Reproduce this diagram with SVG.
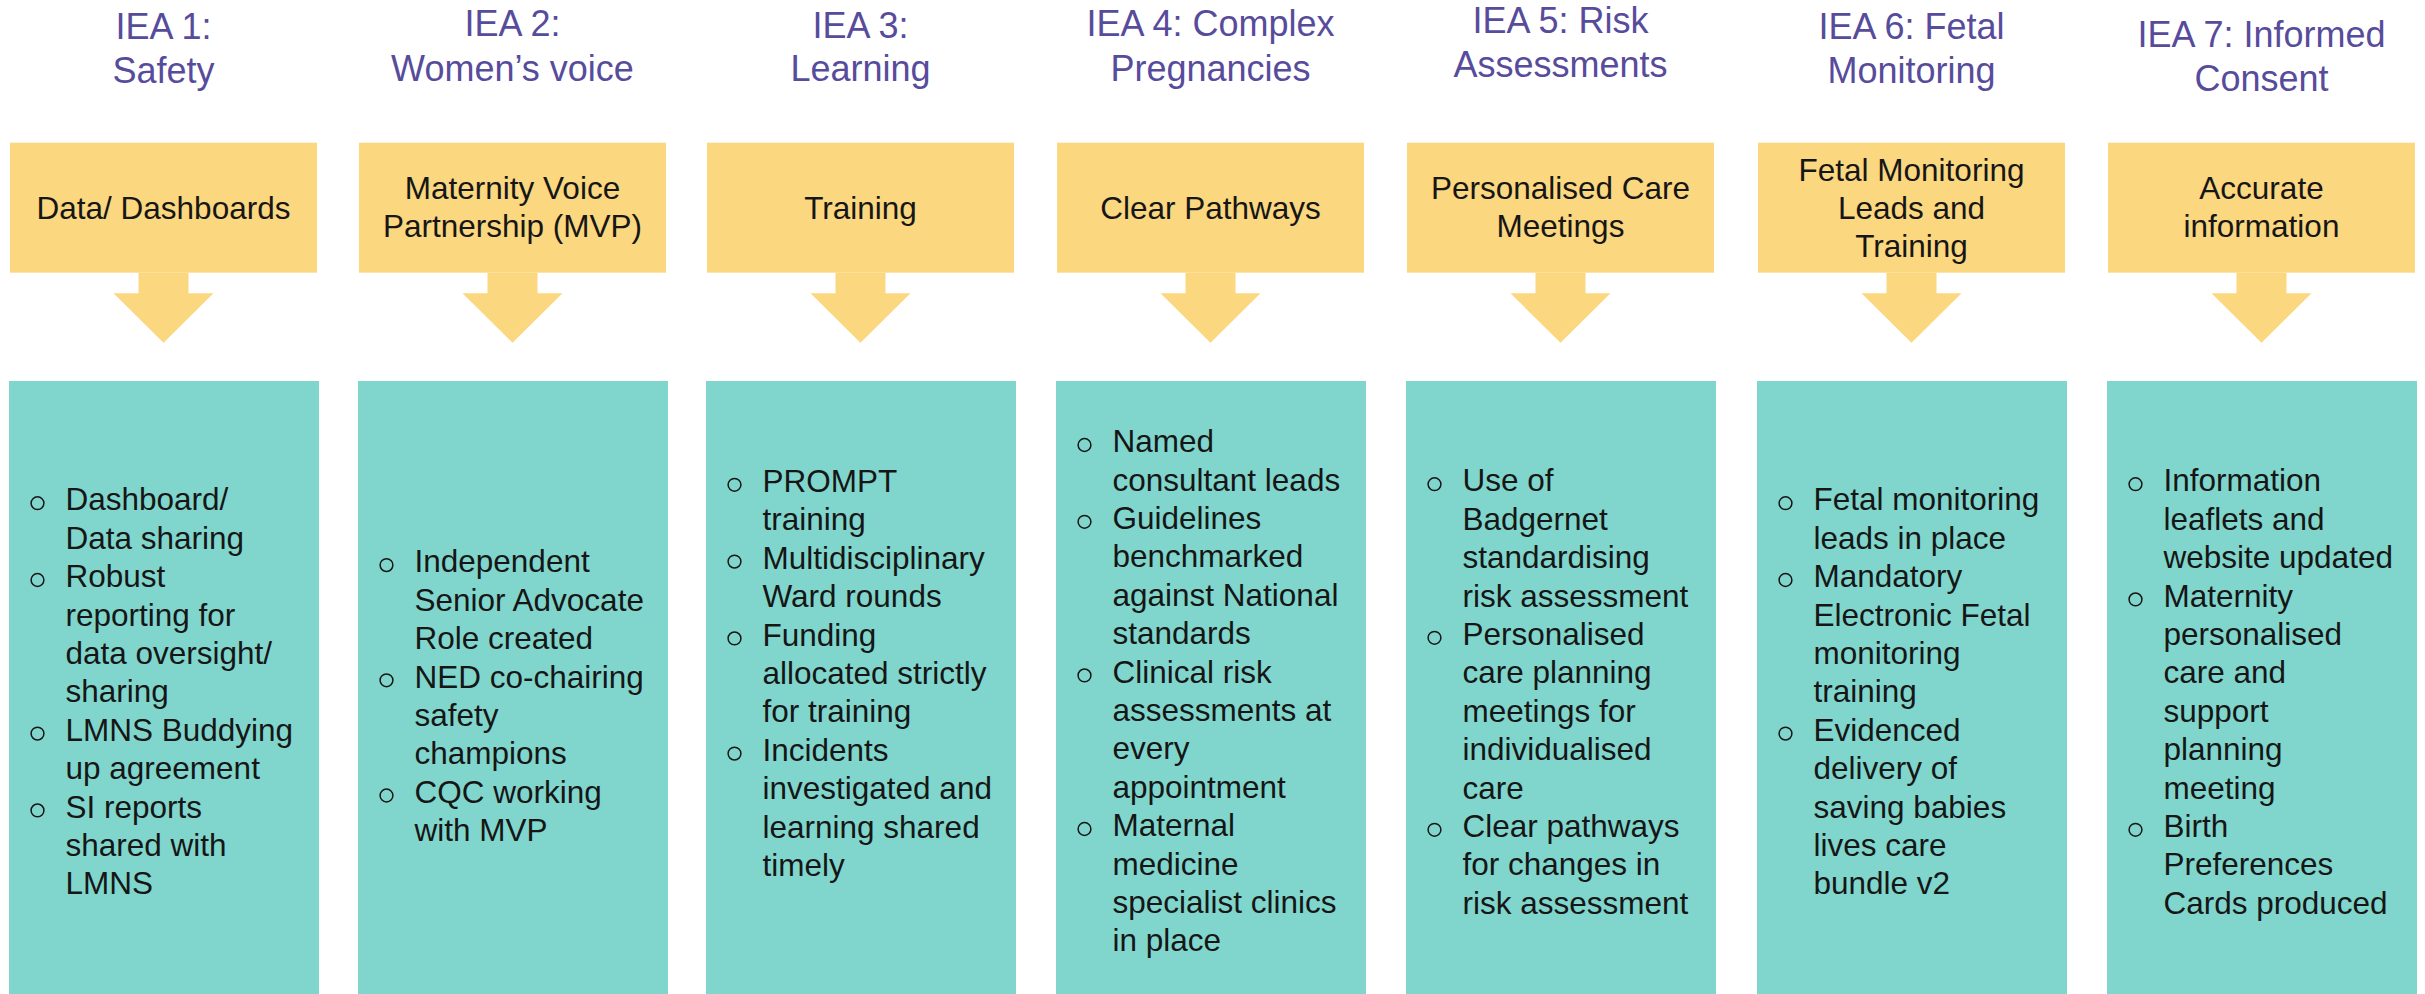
<svg xmlns="http://www.w3.org/2000/svg" width="2425" height="994" viewBox="0 0 2425 994">
  <style>
    .title { font-family: "Liberation Sans", Arial, sans-serif; font-size: 36px; fill: #574C9B; text-anchor: middle; }
    .head  { fill: #FBD780; }
    .headtxt { font-family: "Liberation Sans", Arial, sans-serif; font-size: 31.5px; fill: #161616; text-anchor: middle; }
    .body  { fill: #80D6CD; }
    .item  { font-family: "Liberation Sans", Arial, sans-serif; font-size: 31.5px; fill: #161616; }
    .bullet { fill: none; stroke: #161616; stroke-width: 1.5; }
    .arrow { fill: #FBD780; }
  </style>
  <defs>
    <circle id="b" r="6.4" class="bullet"/>
    <!-- block arrow, drawn around x=0 from the bottom of a header box -->
    <polygon id="down" class="arrow" points="-25,272.7 25,272.7 25,293.3 50,293.3 0,342.7 -50,293.3 -25,293.3"/>
  </defs>

  <rect width="2425" height="994" fill="#FFFFFF"/>

  <!-- downward arrows from each header box into its detail box -->
  <g id="connectors">
    <use href="#down" x="163.5"/>
    <use href="#down" x="512.5"/>
    <use href="#down" x="860.5"/>
    <use href="#down" x="1210.5"/>
    <use href="#down" x="1560.5"/>
    <use href="#down" x="1911.5"/>
    <use href="#down" x="2261.5"/>
  </g>

  <!-- IEA 1 -->
  <g id="iea1">
    <text class="title"><tspan x="163.5" y="39.3">IEA 1:</tspan><tspan x="163.5" y="83">Safety</tspan></text>
    <rect class="head" x="10" y="142.7" width="307" height="130"/>
    <text class="headtxt" x="163.5" y="219">Data/ Dashboards</text>
    <rect class="body" x="9" y="381" width="310" height="613"/>
    <use href="#b" x="37.5" y="503.2"/>
    <use href="#b" x="37.5" y="580"/>
    <use href="#b" x="37.5" y="733.6"/>
    <use href="#b" x="37.5" y="810.4"/>
    <text class="item">
      <tspan x="65.5" y="510.4">Dashboard/</tspan>
      <tspan x="65.5" y="548.8">Data sharing</tspan>
      <tspan x="65.5" y="587.2">Robust</tspan>
      <tspan x="65.5" y="625.6">reporting for</tspan>
      <tspan x="65.5" y="664">data oversight/</tspan>
      <tspan x="65.5" y="702.4">sharing</tspan>
      <tspan x="65.5" y="740.8">LMNS Buddying</tspan>
      <tspan x="65.5" y="779.2">up agreement</tspan>
      <tspan x="65.5" y="817.6">SI reports</tspan>
      <tspan x="65.5" y="856">shared with</tspan>
      <tspan x="65.5" y="894.4">LMNS</tspan>
    </text>
  </g>

  <!-- IEA 2 -->
  <g id="iea2">
    <text class="title"><tspan x="512.5" y="36">IEA 2:</tspan><tspan x="512.5" y="80.7">Women’s voice</tspan></text>
    <rect class="head" x="359" y="142.7" width="307" height="130"/>
    <text class="headtxt"><tspan x="512.5" y="199">Maternity Voice</tspan><tspan x="512.5" y="237.4">Partnership (MVP)</tspan></text>
    <rect class="body" x="358" y="381" width="310" height="613"/>
    <use href="#b" x="386.5" y="565.1"/>
    <use href="#b" x="386.5" y="680.3"/>
    <use href="#b" x="386.5" y="795.5"/>
    <text class="item">
      <tspan x="414.5" y="572.3">Independent</tspan>
      <tspan x="414.5" y="610.7">Senior Advocate</tspan>
      <tspan x="414.5" y="649.1">Role created</tspan>
      <tspan x="414.5" y="687.5">NED co-chairing</tspan>
      <tspan x="414.5" y="725.9">safety</tspan>
      <tspan x="414.5" y="764.3">champions</tspan>
      <tspan x="414.5" y="802.7">CQC working</tspan>
      <tspan x="414.5" y="841.1">with MVP</tspan>
    </text>
  </g>

  <!-- IEA 3 -->
  <g id="iea3">
    <text class="title"><tspan x="860.5" y="38.3">IEA 3:</tspan><tspan x="860.5" y="81">Learning</tspan></text>
    <rect class="head" x="707" y="142.7" width="307" height="130"/>
    <text class="headtxt" x="860.5" y="219">Training</text>
    <rect class="body" x="706" y="381" width="310" height="613"/>
    <use href="#b" x="734.5" y="484.8"/>
    <use href="#b" x="734.5" y="561.6"/>
    <use href="#b" x="734.5" y="638.4"/>
    <use href="#b" x="734.5" y="753.6"/>
    <text class="item">
      <tspan x="762.5" y="492">PROMPT</tspan>
      <tspan x="762.5" y="530.4">training</tspan>
      <tspan x="762.5" y="568.8">Multidisciplinary</tspan>
      <tspan x="762.5" y="607.2">Ward rounds</tspan>
      <tspan x="762.5" y="645.6">Funding</tspan>
      <tspan x="762.5" y="684">allocated strictly</tspan>
      <tspan x="762.5" y="722.4">for training</tspan>
      <tspan x="762.5" y="760.8">Incidents</tspan>
      <tspan x="762.5" y="799.2">investigated and</tspan>
      <tspan x="762.5" y="837.6">learning shared</tspan>
      <tspan x="762.5" y="876">timely</tspan>
    </text>
  </g>

  <!-- IEA 4 -->
  <g id="iea4">
    <text class="title"><tspan x="1210.5" y="36">IEA 4: Complex</tspan><tspan x="1210.5" y="80.7">Pregnancies</tspan></text>
    <rect class="head" x="1057" y="142.7" width="307" height="130"/>
    <text class="headtxt" x="1210.5" y="219">Clear Pathways</text>
    <rect class="body" x="1056" y="381" width="310" height="613"/>
    <use href="#b" x="1084.5" y="445"/>
    <use href="#b" x="1084.5" y="521.8"/>
    <use href="#b" x="1084.5" y="675.4"/>
    <use href="#b" x="1084.5" y="829"/>
    <text class="item">
      <tspan x="1112.5" y="452.2">Named</tspan>
      <tspan x="1112.5" y="490.6">consultant leads</tspan>
      <tspan x="1112.5" y="529">Guidelines</tspan>
      <tspan x="1112.5" y="567.4">benchmarked</tspan>
      <tspan x="1112.5" y="605.8">against National</tspan>
      <tspan x="1112.5" y="644.2">standards</tspan>
      <tspan x="1112.5" y="682.6">Clinical risk</tspan>
      <tspan x="1112.5" y="721">assessments at</tspan>
      <tspan x="1112.5" y="759.4">every</tspan>
      <tspan x="1112.5" y="797.8">appointment</tspan>
      <tspan x="1112.5" y="836.2">Maternal</tspan>
      <tspan x="1112.5" y="874.6">medicine</tspan>
      <tspan x="1112.5" y="913">specialist clinics</tspan>
      <tspan x="1112.5" y="951.4">in place</tspan>
    </text>
  </g>

  <!-- IEA 5 -->
  <g id="iea5">
    <text class="title"><tspan x="1560.5" y="32.7">IEA 5: Risk</tspan><tspan x="1560.5" y="77.3">Assessments</tspan></text>
    <rect class="head" x="1407" y="142.7" width="307" height="130"/>
    <text class="headtxt"><tspan x="1560.5" y="199">Personalised Care</tspan><tspan x="1560.5" y="237.4">Meetings</tspan></text>
    <rect class="body" x="1406" y="381" width="310" height="613"/>
    <use href="#b" x="1434.5" y="484.2"/>
    <use href="#b" x="1434.5" y="637.8"/>
    <use href="#b" x="1434.5" y="829.8"/>
    <text class="item">
      <tspan x="1462.5" y="491.4">Use of</tspan>
      <tspan x="1462.5" y="529.8">Badgernet</tspan>
      <tspan x="1462.5" y="568.2">standardising</tspan>
      <tspan x="1462.5" y="606.6">risk assessment</tspan>
      <tspan x="1462.5" y="645">Personalised</tspan>
      <tspan x="1462.5" y="683.4">care planning</tspan>
      <tspan x="1462.5" y="721.8">meetings for</tspan>
      <tspan x="1462.5" y="760.2">individualised</tspan>
      <tspan x="1462.5" y="798.6">care</tspan>
      <tspan x="1462.5" y="837">Clear pathways</tspan>
      <tspan x="1462.5" y="875.4">for changes in</tspan>
      <tspan x="1462.5" y="913.8">risk assessment</tspan>
    </text>
  </g>

  <!-- IEA 6 -->
  <g id="iea6">
    <text class="title"><tspan x="1911.5" y="39.3">IEA 6: Fetal</tspan><tspan x="1911.5" y="83">Monitoring</tspan></text>
    <rect class="head" x="1758" y="142.7" width="307" height="130"/>
    <text class="headtxt"><tspan x="1911.5" y="180.6">Fetal Monitoring</tspan><tspan x="1911.5" y="219">Leads and</tspan><tspan x="1911.5" y="257.4">Training</tspan></text>
    <rect class="body" x="1757" y="381" width="310" height="613"/>
    <use href="#b" x="1785.5" y="503.2"/>
    <use href="#b" x="1785.5" y="580"/>
    <use href="#b" x="1785.5" y="733.6"/>
    <text class="item">
      <tspan x="1813.5" y="510.4">Fetal monitoring</tspan>
      <tspan x="1813.5" y="548.8">leads in place</tspan>
      <tspan x="1813.5" y="587.2">Mandatory</tspan>
      <tspan x="1813.5" y="625.6">Electronic Fetal</tspan>
      <tspan x="1813.5" y="664">monitoring</tspan>
      <tspan x="1813.5" y="702.4">training</tspan>
      <tspan x="1813.5" y="740.8">Evidenced</tspan>
      <tspan x="1813.5" y="779.2">delivery of</tspan>
      <tspan x="1813.5" y="817.6">saving babies</tspan>
      <tspan x="1813.5" y="856">lives care</tspan>
      <tspan x="1813.5" y="894.4">bundle v2</tspan>
    </text>
  </g>

  <!-- IEA 7 -->
  <g id="iea7">
    <text class="title"><tspan x="2261.5" y="46.7">IEA 7: Informed</tspan><tspan x="2261.5" y="91.4">Consent</tspan></text>
    <rect class="head" x="2108" y="142.7" width="307" height="130"/>
    <text class="headtxt"><tspan x="2261.5" y="199">Accurate</tspan><tspan x="2261.5" y="237.4">information</tspan></text>
    <rect class="body" x="2107" y="381" width="310" height="613"/>
    <use href="#b" x="2135.5" y="484.2"/>
    <use href="#b" x="2135.5" y="599.4"/>
    <use href="#b" x="2135.5" y="829.8"/>
    <text class="item">
      <tspan x="2163.5" y="491.4">Information</tspan>
      <tspan x="2163.5" y="529.8">leaflets and</tspan>
      <tspan x="2163.5" y="568.2">website updated</tspan>
      <tspan x="2163.5" y="606.6">Maternity</tspan>
      <tspan x="2163.5" y="645">personalised</tspan>
      <tspan x="2163.5" y="683.4">care and</tspan>
      <tspan x="2163.5" y="721.8">support</tspan>
      <tspan x="2163.5" y="760.2">planning</tspan>
      <tspan x="2163.5" y="798.6">meeting</tspan>
      <tspan x="2163.5" y="837">Birth</tspan>
      <tspan x="2163.5" y="875.4">Preferences</tspan>
      <tspan x="2163.5" y="913.8">Cards produced</tspan>
    </text>
  </g>
</svg>
